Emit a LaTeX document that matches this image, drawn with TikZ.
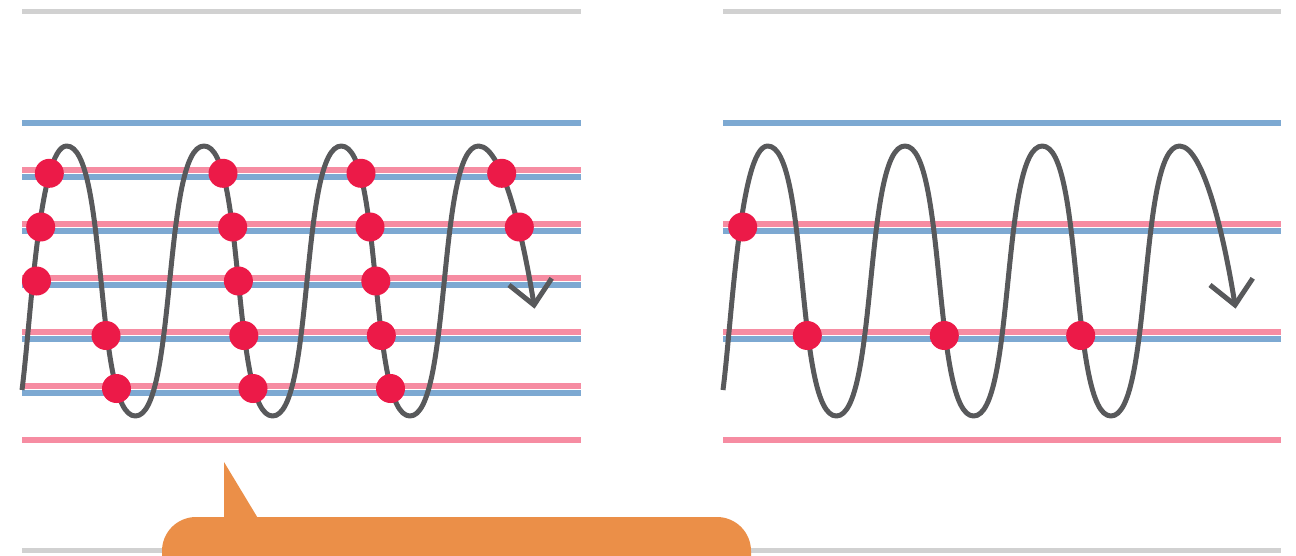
\documentclass[tikz,border=0pt]{standalone}
\definecolor{gline}{HTML}{D1D1D1}
\definecolor{bline}{HTML}{7DA9D2}
\definecolor{pline}{HTML}{F68CA2}
\definecolor{wavec}{HTML}{58595B}
\definecolor{dotc}{HTML}{EC1A48}
\definecolor{callc}{HTML}{EB8F48}
\tikzset{
  grayrule/.style={draw=gline, line width=5pt},
  bluerule/.style={draw=bline, line width=6.2pt},
  pinkrule/.style={draw=pline, line width=6.2pt},
  wavepath/.style={draw=wavec, line width=5pt, line join=round},
  arrowhd/.style={draw=wavec, line width=5pt, line join=miter},
  hit/.style={circle, fill=dotc, inner sep=0pt, minimum size=29pt},
}
\begin{document}
\begin{tikzpicture}[x=1pt,y=-1pt]
\useasboundingbox (0,0) rectangle (1296,555);
\clip (0,0) rectangle (1296,555);
\fill[white] (0,0) rectangle (1296,555);
% gray rules
\draw[grayrule] (22,11.5) -- (581,11.5);
\draw[grayrule] (723,11.5) -- (1281,11.5);
\draw[grayrule] (22,550) -- (581,550);
\draw[grayrule] (723,550) -- (1281,550);
% left panel lines
\draw[bluerule] (22,123) -- (581,123);
\foreach \k in {0,...,4}{
  \draw[pinkrule] (22,{170.3+54*\k}) -- (581,{170.3+54*\k});
  \draw[bluerule] (22,{176.6+54*\k}) -- (581,{176.6+54*\k});
}
\draw[pinkrule] (22,440) -- (581,440);
% right panel lines
\draw[bluerule] (723,123) -- (1281,123);
\foreach \k in {1,3}{
  \draw[pinkrule] (723,{170.3+54*\k}) -- (1281,{170.3+54*\k});
  \draw[bluerule] (723,{176.6+54*\k}) -- (1281,{176.6+54*\k});
}
\draw[pinkrule] (723,440) -- (1281,440);
% waves
\foreach \s in {0,701}{
\begin{scope}[xshift=\s pt]
\draw[wavepath] (22,390) .. controls (31,320) and (39,146) .. (66.7,146)
  .. controls (107.9,146) and (94.15,416) .. (135.35,416)
  .. controls (176.55,416) and (162.8,146) .. (204,146)
  .. controls (245.2,146) and (231.45,416) .. (272.65,416)
  .. controls (313.85,416) and (300.1,146) .. (341.3,146)
  .. controls (382.5,146) and (368.75,416) .. (409.95,416)
  .. controls (451.15,416) and (437.4,146) .. (478.6,146)
  .. controls (503.6,146) and (524.7,245.7) .. (534,305);
\draw[arrowhd] (509,285) -- (534,305) -- (551.7,278.3);
\end{scope}
}
% dots left
\node[hit] (a1) at (49.3,173.3) {};
\node[hit] (a2) at (40.7,227) {};
\node[hit] (a3) at (36.5,281) {};
\node[hit] (a4) at (106,335.5) {};
\node[hit] (a5) at (116.5,388.5) {};
\node[hit] (b1) at (223,173.3) {};
\node[hit] (b2) at (232.7,227) {};
\node[hit] (b3) at (238.4,281) {};
\node[hit] (b4) at (243.8,335.5) {};
\node[hit] (b5) at (253,388.5) {};
\node[hit] (c1) at (361,173.3) {};
\node[hit] (c2) at (370,227) {};
\node[hit] (c3) at (375.8,281) {};
\node[hit] (c4) at (381.3,335.5) {};
\node[hit] (c5) at (390.5,388.5) {};
\node[hit] (e1) at (501.7,173.3) {};
\node[hit] (e2) at (519.3,227) {};
% dots right
\node[hit] (r1) at (742.7,227) {};
\node[hit] (r2) at (807.3,335.5) {};
\node[hit] (r3) at (944.3,335.5) {};
\node[hit] (r4) at (1080.7,335.5) {};
% callout
\fill[callc] (224,462) -- (259,520) -- (224,520) -- cycle;
\fill[callc, rounded corners=34pt] (162,640) rectangle (751,517);
\end{tikzpicture}
\end{document}
